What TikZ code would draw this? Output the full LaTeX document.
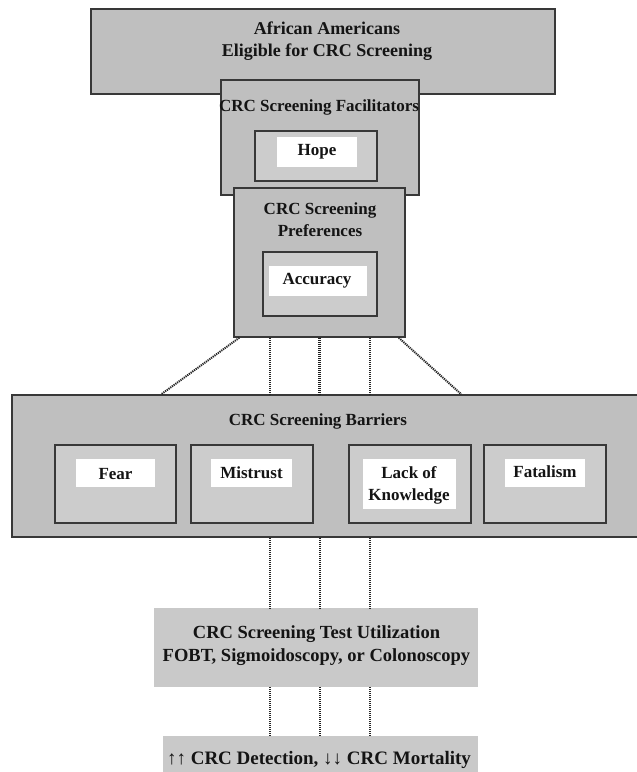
\documentclass[tikz,border=0pt]{standalone}
\usepackage{fontspec}
\setmainfont{Liberation Serif}
\begin{document}
\begin{tikzpicture}[x=1pt,y=-1pt,
  box/.style={draw=black!78, line width=1.5pt, fill=black!25, inner sep=0pt, minimum width=#1},
  inbox/.style={draw=black!78, line width=1.5pt, fill=black!20, inner sep=0pt, minimum width=#1},
  wbox/.style={fill=white, inner sep=0pt, minimum width=#1},
  flat/.style={fill=black!21, inner sep=0pt, minimum width=#1},
  lbl/.style={font=\bfseries\fontsize{17}{22}\selectfont, align=center, inner sep=0pt, text=black!92},
  biglbl/.style={font=\bfseries\fontsize{18.5}{23}\selectfont, align=center, inner sep=0pt, text=black!92},
  dotl/.style={draw=black!85, line width=1.5pt, dash pattern=on 1.1pt off 0.9pt},
  dotd/.style={draw=black!85, line width=2pt, dash pattern=on 1.2pt off 0.9pt},
  dotk/.style={draw=black!88, line width=2.6pt, dash pattern=on 1.2pt off 0.8pt}]
\useasboundingbox (0,0) rectangle (637,772);
\clip (0,0) rectangle (637,772);

% top box
\node[box=464pt, minimum height=85pt] (top) at (323,51.5) {};
\node[biglbl, font=\bfseries\fontsize{18}{22}\selectfont] (toptxt) at (327,41.5) {African Americans\\Eligible for CRC Screening};

% facilitators
\node[box=198pt, minimum height=115pt] (fac) at (320,137.5) {};
\node[lbl] (factxt) at (319,107) {CRC Screening Facilitators};
\node[inbox=122pt, minimum height=50pt] (hopebox) at (316,156) {};
\node[wbox=80pt, minimum height=30pt] (hopew) at (317,152) {};
\node[lbl] (hope) at (317,152) {Hope};

% preferences
\node[box=171pt, minimum height=149pt] (pref) at (319.5,262.5) {};
\node[lbl] (preftxt) at (320,220) {CRC Screening\\Preferences};
\node[inbox=114pt, minimum height=64pt] (accbox) at (320,284) {};
\node[wbox=98pt, minimum height=30pt] (accw) at (318,281) {};
\node[lbl] (acc) at (317,281) {Accuracy};

% barriers
\node[box=638pt, minimum height=142pt] (bar) at (331,466) {};
\node[lbl] (bartxt) at (318,421) {CRC Screening Barriers};
\node[inbox=121pt, minimum height=78pt] (fearbox) at (115.5,484) {};
\node[wbox=79pt, minimum height=28pt] (fearw) at (115.5,473) {};
\node[lbl] (fear) at (115.5,474) {Fear};
\node[inbox=122pt, minimum height=78pt] (mistbox) at (252,484) {};
\node[wbox=81pt, minimum height=28pt] (mistw) at (251.5,473) {};
\node[lbl] (mist) at (251.5,473) {Mistrust};
\node[inbox=122pt, minimum height=78pt] (lackbox) at (410,484) {};
\node[wbox=93pt, minimum height=50pt] (lackw) at (409.5,484) {};
\node[lbl] (lack) at (409,485) {Lack of\\Knowledge};
\node[inbox=122pt, minimum height=78pt] (fatbox) at (545,484) {};
\node[wbox=80pt, minimum height=28pt] (fatw) at (545,473) {};
\node[lbl] (fat) at (545,472) {Fatalism};

% test utilization
\node[flat=324pt, minimum height=79pt] (test) at (316,647.5) {};
\node[biglbl] (testtxt) at (316.5,645.5) {CRC Screening Test Utilization\\FOBT, Sigmoidoscopy, or Colonoscopy};

% outcome
\node[flat=315pt, minimum height=54pt] (fin) at (320.5,763) {};
\node[biglbl, font=\bfseries\fontsize{19}{23}\selectfont] (fintxt) at (319,760) {↑↑ CRC Detection, ↓↓ CRC Mortality};

% connectors preferences -> barriers
\draw[dotd] ([xshift=6pt]pref.south west) -- ([xshift=150pt]bar.north west);
\draw[dotd] ([xshift=-7pt]pref.south east) -- ([xshift=450pt]bar.north west);
\draw[dotl] ([xshift=-49.5pt]pref.south) -- ([xshift=-49.5pt]pref.south |- bar.north);
\draw[dotk] ([xshift=0pt]pref.south) -- ([xshift=0pt]pref.south |- bar.north);
\draw[dotl] ([xshift=50.5pt]pref.south) -- ([xshift=50.5pt]pref.south |- bar.north);

% barriers -> test
\draw[dotl] ([xshift=-46pt]test.north |- bar.south) -- ([xshift=-46pt]test.north);
\draw[dotk] ([xshift=4pt]test.north |- bar.south) -- ([xshift=4pt]test.north);
\draw[dotl] ([xshift=54pt]test.north |- bar.south) -- ([xshift=54pt]test.north);

% test -> outcome
\draw[dotl] ([xshift=-46pt]test.south) -- ([xshift=-46pt]test.south |- fin.north);
\draw[dotk] ([xshift=4pt]test.south) -- ([xshift=4pt]test.south |- fin.north);
\draw[dotl] ([xshift=54pt]test.south) -- ([xshift=54pt]test.south |- fin.north);
\end{tikzpicture}
\end{document}
